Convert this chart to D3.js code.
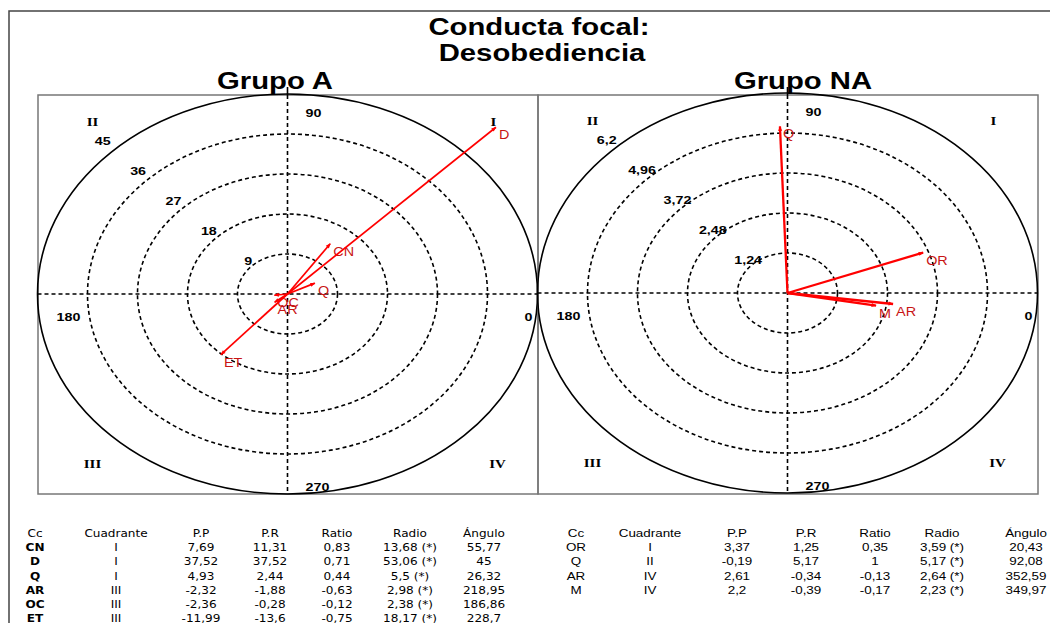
<!DOCTYPE html>
<html><head><meta charset="utf-8">
<script src="https://cdn.jsdelivr.net/npm/d3@7/dist/d3.min.js"></script>
<style>body{margin:0;background:#fff}svg{display:block}</style>
</head><body>
<svg id="chart" width="1050" height="623"></svg>
<script>
// ---------- data ----------
const titleLines = ["Conducta focal:", "Desobediencia"];
const tableHeaders = ["Cc", "Cuadrante", "P.P", "P.R", "Ratio", "Radio", "Ángulo"];

const groupA_name = "Grupo A";
const groupA_codes = ["CN", "D", "Q", "AR", "OC", "ET"];
const groupA_quadrant = ["I", "I", "I", "III", "III", "III"];
const groupA_pp = [7.69, 37.52, 4.93, -2.32, -2.36, -11.99];
const groupA_pr = [11.31, 37.52, 2.44, -1.88, -0.28, -13.6];
const groupA_ratio = [0.83, 0.71, 0.44, -0.63, -0.12, -0.75];
const groupA_radio = [13.68, 53.06, 5.5, 2.98, 2.38, 18.17];
const groupA_angle = [55.77, 45, 26.32, 218.95, 186.86, 228.7];
const groupA_ticks = [9, 18, 27, 36, 45];

const groupNA_name = "Grupo NA";
const groupNA_codes = ["OR", "Q", "AR", "M"];
const groupNA_quadrant = ["I", "II", "IV", "IV"];
const groupNA_pp = [3.37, -0.19, 2.61, 2.2];
const groupNA_pr = [1.25, 5.17, -0.34, -0.39];
const groupNA_ratio = [0.35, 1, -0.13, -0.17];
const groupNA_radio = [3.59, 5.17, 2.64, 2.23];
const groupNA_angle = [20.43, 92.08, 352.59, 349.97];
const groupNA_ticks = [1.24, 2.48, 3.72, 4.96, 6.2];

const angleLabels = ["0", "90", "180", "270"];
const quadrantLabels = ["I", "II", "III", "IV"];

// ---------- helpers ----------
const svg = d3.select("#chart");
svg.append("rect").attr("width", 1050).attr("height", 623).attr("fill", "#fff");
const fmt = v => String(v).replace(".", ",");

function txt(g, x, y, s, o) {
  o = o || {};
  return g.append("text")
    .attr("transform", `translate(${x},${y}) scale(${o.sx || 1.25},1)`)
    .attr("text-anchor", o.anchor || "middle")
    .attr("font-family", o.family || "'Liberation Sans', Arial, sans-serif")
    .attr("font-size", o.size || 11)
    .attr("font-weight", o.weight || "normal")
    .attr("fill", o.fill || "#000")
    .text(s);
}

// outer frame
svg.append("path").attr("d", "M9,623 L9,11 L1050,11")
  .attr("fill", "none").attr("stroke", "#444").attr("stroke-width", 1.5);

// titles
txt(svg, 539, 35, titleLines[0], {size: 24, weight: "bold", sx: 1.22});
txt(svg, 542, 61, titleLines[1], {size: 24, weight: "bold", sx: 1.22});

// marker
const defs = svg.append("defs");
defs.append("marker").attr("id", "arr")
  .attr("viewBox", "0 -5 10 10").attr("refX", 9).attr("refY", 0)
  .attr("markerWidth", 6).attr("markerHeight", 5).attr("markerUnits", "userSpaceOnUse")
  .attr("orient", "auto")
  .append("path").attr("d", "M0,-4L10,0L0,4Z").attr("fill", "#ff0000");

function drawPolar(cfg) {
  const g = svg.append("g");
  const {cx, cy, left, right, top, bottom, ticks, codes, radio, angle, lw, name, nameX, ringLabelAnchor, ringLabelDx} = cfg;
  const maxV = ticks[ticks.length - 1];
  const sx = d3.scaleLinear().domain([0, maxV]).range([0, 250]);
  const sy = d3.scaleLinear().domain([0, maxV]).range([0, 200]);
  const px = (r, a) => cx + sx(r) * Math.cos(a * Math.PI / 180);
  const py = (r, a) => cy - sy(r) * Math.sin(a * Math.PI / 180);

  // group title
  txt(svg, nameX, 89, name, {size: 24, weight: "bold", sx: 1.22});

  // panel frame
  g.append("rect").attr("x", left).attr("y", top).attr("width", right - left).attr("height", bottom - top)
    .attr("fill", "none").attr("stroke", "#777").attr("stroke-width", 1.5);

  // rings
  g.selectAll("ellipse.ring").data(ticks).join("ellipse")
    .attr("class", "ring")
    .attr("cx", cx).attr("cy", cy)
    .attr("rx", d => sx(d)).attr("ry", d => sy(d))
    .attr("fill", "none").attr("stroke", "#000").attr("stroke-width", 1.6)
    .attr("stroke-dasharray", (d, i) => i === ticks.length - 1 ? null : "4,3");

  // axes
  g.append("line").attr("x1", px(maxV, 180)).attr("x2", px(maxV, 0)).attr("y1", cy).attr("y2", cy)
    .attr("stroke", "#000").attr("stroke-width", 1.6).attr("stroke-dasharray", "4,3");
  g.append("line").attr("x1", cx).attr("x2", cx).attr("y1", top).attr("y2", bottom)
    .attr("stroke", "#000").attr("stroke-width", 1.6).attr("stroke-dasharray", "4,3");
  g.append("line").attr("x1", cx).attr("x2", cx).attr("y1", top - 8).attr("y2", top)
    .attr("stroke", "#000").attr("stroke-width", 1.6);

  // ring labels
  ticks.forEach(t => {
    const x = px(t, 135), y = py(t, 135);
    const off = -3 - 0.06 * (cy - y);
    txt(g, x + ringLabelDx, y + off + 4, t.toString().replace(".", ","),
      {weight: "bold", size: 11, anchor: ringLabelAnchor, sx: 1.3});
  });

  // angle labels
  const aOff = [[241, 27], [26, -177], [-219, 27], [30, 197]];
  angleLabels.forEach((s, i) => txt(g, cx + aOff[i][0], cy + aOff[i][1], s, {weight: "bold", size: 11, sx: 1.3}));
  const qOff = [[206, -168], [-195, -168], [-195, 174], [210, 174]];
  quadrantLabels.forEach((s, i) => txt(g, cx + qOff[i][0], cy + qOff[i][1], s,
    {weight: "bold", size: 13, sx: 1.15, family: "'Liberation Serif', serif"}));

  // vectors
  codes.forEach((c, i) => {
    const x2 = px(radio[i], angle[i]), y2 = py(radio[i], angle[i]);
    g.append("line").attr("x1", cx).attr("y1", cy).attr("x2", x2).attr("y2", y2)
      .attr("stroke", "#ff0000").attr("stroke-width", lw).attr("marker-end", "url(#arr)");
    txt(g, x2 + 3, y2 + 12, c, {anchor: "start", size: 12, fill: "#c81414", sx: 1.2});
  });
}

drawPolar({cx: 287.5, cy: 294, left: 38, right: 538, top: 95, bottom: 494,
  ticks: groupA_ticks, codes: groupA_codes, radio: groupA_radio, angle: groupA_angle,
  lw: 1.7, name: groupA_name, nameX: 275, ringLabelAnchor: "end", ringLabelDx: 0});
drawPolar({cx: 787.5, cy: 293, left: 538, right: 1038, top: 95, bottom: 494,
  ticks: groupNA_ticks, codes: groupNA_codes, radio: groupNA_radio, angle: groupNA_angle,
  lw: 2.3, name: groupNA_name, nameX: 803, ringLabelAnchor: "middle", ringLabelDx: -4});

// ---------- tables ----------
function drawTable(cfg) {
  const g = svg.append("g");
  const {cols, codes, quad, pp, pr, ratio, radio, angle, family, size, sx, boldCodes} = cfg;
  const rowY = d3.scaleLinear().domain([0, 1]).range([537, 551.2]);
  tableHeaders.forEach((h, j) => txt(g, cols[j], rowY(0), h, {family, size, sx}));
  codes.forEach((c, i) => {
    const vals = [c, quad[i], fmt(pp[i]), fmt(pr[i]), fmt(ratio[i]), fmt(radio[i]) + " (*)", fmt(angle[i])];
    vals.forEach((v, j) => txt(g, cols[j], rowY(i + 1), v,
      {family, size, sx, weight: (j === 0 && boldCodes) ? "bold" : "normal"}));
  });
}
drawTable({cols: [35, 116, 201, 270, 337, 410, 484], codes: groupA_codes, quad: groupA_quadrant,
  pp: groupA_pp, pr: groupA_pr, ratio: groupA_ratio, radio: groupA_radio, angle: groupA_angle,
  family: "'DejaVu Sans', Verdana, sans-serif", size: 10.5, sx: 1.15, boldCodes: true});
drawTable({cols: [576, 650, 737, 806, 875, 942, 1026], codes: groupNA_codes, quad: groupNA_quadrant,
  pp: groupNA_pp, pr: groupNA_pr, ratio: groupNA_ratio, radio: groupNA_radio, angle: groupNA_angle,
  family: "'Liberation Sans', Arial, sans-serif", size: 11, sx: 1.22, boldCodes: false});
</script>
</body></html>
